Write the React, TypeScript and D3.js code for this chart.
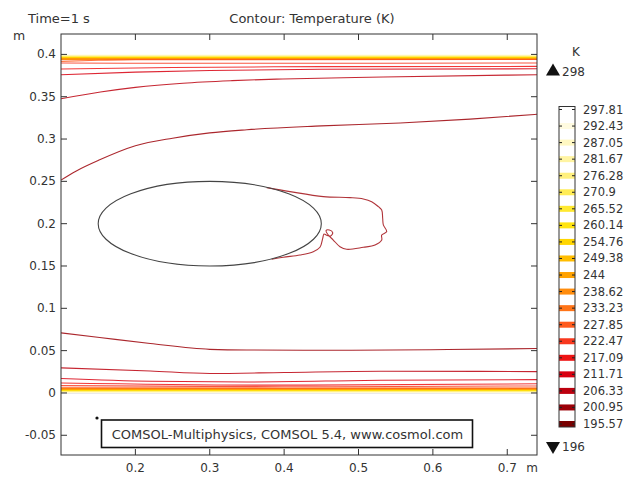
import React from "react";
import * as d3 from "d3";

// Contour levels (K) and their colours (thermal light)
const levels = [297.81, 292.43, 287.05, 281.67, 276.28, 270.9, 265.52, 260.14, 254.76, 249.38, 244, 238.62, 233.23, 227.85, 222.47, 217.09, 211.71, 206.33, 200.95, 195.57];
const levelColors = ["#ffffff", "#fffbe0", "#fff8c2", "#fff4a2", "#fff07e", "#ffec55", "#ffe930", "#ffe40e", "#ffd600", "#ffbd00", "#ffa200", "#ff8c0c", "#ff7418", "#ff5a1c", "#f8381e", "#ee1414", "#d80010", "#bc000e", "#9c0008", "#7a0000"];
const rangeMax = 298;
const rangeMin = 196;

const xTicks = [0.2, 0.3, 0.4, 0.5, 0.6, 0.7];
const yTicks = [-0.05, 0, 0.05, 0.1, 0.15, 0.2, 0.25, 0.3, 0.35, 0.4];

type Pt = [number, number];

// Upper wall boundary layer
const upper200: Pt[] = [[0.1, 0.2515], [0.12, 0.262], [0.152, 0.2754], [0.2, 0.292], [0.25, 0.301], [0.3, 0.3073], [0.35, 0.311], [0.45, 0.3155], [0.556, 0.319], [0.65, 0.3235], [0.74, 0.3292]];
const upper206: Pt[] = [[0.1, 0.3476], [0.153, 0.3555], [0.2, 0.361], [0.264, 0.366], [0.33, 0.369], [0.398, 0.371], [0.533, 0.3733], [0.74, 0.376]];
const upper211: Pt[] = [[0.1, 0.376], [0.2, 0.379], [0.3, 0.381], [0.45, 0.3825], [0.74, 0.383]];
const upper217: Pt[] = [[0.1, 0.3827], [0.25, 0.3845], [0.45, 0.3855], [0.74, 0.3858]];
const upper222: Pt[] = [[0.1, 0.3898], [0.3, 0.3895], [0.74, 0.3898]];
const upper227: Pt[] = [[0.1, 0.3918], [0.15, 0.393], [0.2, 0.3938], [0.74, 0.394]];
// 244 K .. 292.43 K, warm side nearest the wall
const upperBand: number[] = [0.3943, 0.3948, 0.3953, 0.3957, 0.396, 0.3963, 0.3966, 0.397, 0.3978, 0.3985, 0.3992];

// Lower wall boundary layer
const lower200: Pt[] = [[0.1, 0.071], [0.152, 0.0655], [0.22, 0.0584], [0.3, 0.0515], [0.35, 0.0507], [0.49, 0.0505], [0.62, 0.0513], [0.74, 0.0525]];
const lower206: Pt[] = [[0.1, 0.0296], [0.22, 0.026], [0.3, 0.023], [0.4, 0.0242], [0.53, 0.0257], [0.74, 0.0252]];
const lower211: Pt[] = [[0.1, 0.017], [0.22, 0.0138], [0.35, 0.013], [0.53, 0.015], [0.74, 0.0158]];
const lower217: Pt[] = [[0.1, 0.0118], [0.4, 0.0092], [0.74, 0.0108]];
const lower222: Pt[] = [[0.1, 0.0087], [0.4, 0.0073], [0.74, 0.0083]];
const lower227: Pt[] = [[0.1, 0.0062], [0.4, 0.0056], [0.74, 0.0058]];
const lowerBand: number[] = [0.0052, 0.0047, 0.0042, 0.0038, 0.0035, 0.0032, 0.0029, 0.0025, 0.0019, 0.0013, 0.0007];

// Wake behind the elliptic body
const wake200: Pt[] = [[0.3766, 0.2426], [0.4079, 0.2379], [0.4527, 0.232], [0.4886, 0.2308], [0.5065, 0.2292], [0.5177, 0.226], [0.5267, 0.2201], [0.5312, 0.2162], [0.5325, 0.2064], [0.5334, 0.1985], [0.5379, 0.1905], [0.5312, 0.1866], [0.5312, 0.1807], [0.5222, 0.1748], [0.5065, 0.1721], [0.4841, 0.1697], [0.4751, 0.1728], [0.4661, 0.1807], [0.4594, 0.1866], [0.4563, 0.1917], [0.4608, 0.1925], [0.4653, 0.1894], [0.4626, 0.1855], [0.4572, 0.1863], [0.4536, 0.1878], [0.4519, 0.1827], [0.4482, 0.1721], [0.4392, 0.1669], [0.4213, 0.163], [0.3989, 0.1603], [0.3833, 0.1579]];

// Elliptic body: centre and semi-axes (m)
const body = { cx: 0.3, cy: 0.2, rx: 0.15, ry: 0.05 };

const colorOf = (lvl: number) => levelColors[levels.indexOf(lvl)];

const W = 627;
const H = 479;
const FONT = "DejaVu Sans, sans-serif";
const INK = "#333";

export default function App() {
  const x = d3.scaleLinear().domain([0.1, 0.74]).range([61, 537]);
  const y = d3.scaleLinear().domain([-0.0733, 0.4241]).range([455, 34]);

  const smooth = d3.line<Pt>().x((d) => x(d[0])).y((d) => y(d[1])).curve(d3.curveMonotoneX);
  const loop = d3.line<Pt>().x((d) => x(d[0])).y((d) => y(d[1])).curve(d3.curveCatmullRom.alpha(0.5));

  const bandLevels = levels.slice(1, 12).reverse(); // 244 .. 292.43
  const horizontal: { lvl: number; pts: Pt[]; w: number }[] = [];
  // warm band lines first so the colder, stronger ones sit on top
  bandLevels
    .map((lvl, i) => ({ lvl, i }))
    .reverse()
    .forEach(({ lvl, i }) => {
      horizontal.push({ lvl, w: 1.4, pts: [[0.1, upperBand[i]], [0.74, upperBand[i]]] });
      horizontal.push({ lvl, w: 1.4, pts: [[0.1, lowerBand[i]], [0.74, lowerBand[i]]] });
    });
  horizontal.push(
    { lvl: 227.85, w: 1.1, pts: upper227 },
    { lvl: 222.47, w: 1.1, pts: upper222 },
    { lvl: 217.09, w: 1.1, pts: upper217 },
    { lvl: 211.71, w: 1.1, pts: upper211 },
    { lvl: 206.33, w: 1.1, pts: upper206 },
    { lvl: 200.95, w: 1.1, pts: upper200 },
    { lvl: 227.85, w: 1.1, pts: lower227 },
    { lvl: 222.47, w: 1.1, pts: lower222 },
    { lvl: 217.09, w: 1.1, pts: lower217 },
    { lvl: 211.71, w: 1.1, pts: lower211 },
    { lvl: 206.33, w: 1.1, pts: lower206 },
    { lvl: 200.95, w: 1.1, pts: lower200 },
  );

  const fmt = (v: number) => String(+v.toFixed(2));

  // Colour legend
  const legY = d3.scaleLinear().domain([levels[0], levels[levels.length - 1]]).range([109.5, 424]);
  const barX0 = 559;
  const barX1 = 575;
  const barTop = 106.5;
  const barBottom = 427;

  const [x0, x1] = x.range();
  const [yb, yt] = y.range();
  const tri = d3.symbol(d3.symbolTriangle, 85)() ?? "";

  return (
    <svg width={W} height={H} style={{ position: "absolute", left: 0, top: 0, background: "#fff" }} fontFamily={FONT}>
      <rect width={W} height={H} fill="#fff" />
      <text x={28} y={23} fontSize={13} fill={INK}>Time=1 s</text>
      <text x={312} y={23} fontSize={13} fill={INK} textAnchor="middle">Contour: Temperature (K)</text>
      <text x={13} y={40} fontSize={12.5} fill={INK}>m</text>

      <defs>
        <clipPath id="plotArea">
          <rect x={x0} y={yt} width={x1 - x0} height={yb - yt} />
        </clipPath>
      </defs>

      <g clipPath="url(#plotArea)">
        <line x1={x0} x2={x1} y1={y(0)} y2={y(0)} stroke="#d0d0d0" strokeWidth={1} />
        {horizontal.map((c, i) => (
          <path key={i} d={smooth(c.pts) ?? ""} fill="none" stroke={colorOf(c.lvl)} strokeWidth={c.w} opacity={c.lvl < 230 ? 0.85 : 1} />
        ))}
        <path d={loop(wake200) ?? ""} fill="none" stroke={colorOf(200.95)} strokeWidth={1.1} opacity={0.8} />
        <ellipse
          cx={x(body.cx)}
          cy={y(body.cy)}
          rx={x(body.cx + body.rx) - x(body.cx)}
          ry={y(body.cy) - y(body.cy + body.ry)}
          fill="none"
          stroke="#444"
          strokeWidth={1.1}
        />
      </g>

      {/* frame and inward ticks */}
      <rect x={x0} y={yt} width={x1 - x0} height={yb - yt} fill="none" stroke={INK} strokeWidth={1} />
      {xTicks.map((t) => (
        <g key={"x" + t}>
          <line x1={x(t)} x2={x(t)} y1={yb} y2={yb - 6} stroke={INK} />
          <line x1={x(t)} x2={x(t)} y1={yt} y2={yt + 6} stroke={INK} />
          <text x={x(t)} y={472} fontSize={12} fill={INK} textAnchor="middle">{fmt(t)}</text>
        </g>
      ))}
      {yTicks.map((t) => (
        <g key={"y" + t}>
          <line x1={x0} x2={x0 + 6} y1={y(t)} y2={y(t)} stroke={INK} />
          <line x1={x1} x2={x1 - 6} y1={y(t)} y2={y(t)} stroke={INK} />
          <text x={56} y={y(t) + 4} fontSize={12} fill={INK} textAnchor="end">{fmt(t)}</text>
        </g>
      ))}
      <text x={532} y={472} fontSize={12} fill={INK} textAnchor="middle">m</text>

      {/* copyright label */}
      <circle cx={97} cy={418} r={1.6} fill="#111" />
      <rect x={101.5} y={420} width={371} height={27.5} fill="#fff" stroke="#111" strokeWidth={1.6} />
      <text x={287.5} y={438.5} fontSize={13} fill={INK} textAnchor="middle">COMSOL-Multiphysics, COMSOL 5.4, www.cosmol.com</text>

      {/* legend */}
      <text x={576} y={56} fontSize={12} fill={INK} textAnchor="middle">K</text>
      <path d={tri} transform="translate(553,71.5)" fill="#111" />
      <text x={562} y={76} fontSize={12} fill={INK}>{rangeMax}</text>
      <path d={tri} transform="translate(553,446) rotate(180)" fill="#111" />
      <text x={562} y={451} fontSize={12} fill={INK}>{rangeMin}</text>

      <rect x={barX0} y={barTop} width={barX1 - barX0} height={barBottom - barTop} fill="#fff" />
      {levels.map((lvl, i) => (
        <g key={"l" + lvl}>
          <rect
            x={barX0}
            y={Math.min(legY(lvl) - 3, barBottom - 6)}
            width={barX1 - barX0}
            height={6}
            fill={levelColors[i]}
          />
          <line x1={barX0} x2={barX0 + 3} y1={legY(lvl)} y2={legY(lvl)} stroke="#222" />
          <line x1={barX1} x2={barX1 - 3} y1={legY(lvl)} y2={legY(lvl)} stroke="#222" />
          <text x={583} y={legY(lvl) + 4} fontSize={11.5} fill={INK}>{fmt(lvl)}</text>
        </g>
      ))}
      <rect x={barX0} y={barTop} width={barX1 - barX0} height={barBottom - barTop} fill="none" stroke={INK} strokeWidth={1} />
    </svg>
  );
}
